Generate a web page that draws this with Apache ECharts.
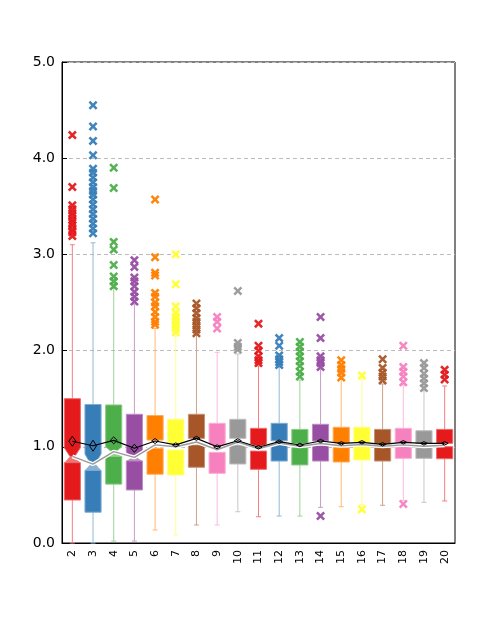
<!DOCTYPE html>
<html>
<head>
<meta charset="utf-8">
<script src="https://cdn.jsdelivr.net/npm/echarts@6/dist/echarts.min.js"></script>
<style>
  html, body { margin: 0; padding: 0; background: #fff; }
  #chart { width: 504px; height: 621px; }
</style>
</head>
<body>
<div id="chart"></div>
<script>
// groups on the x axis
var cats = ['2','3','4','5','6','7','8','9','10','11','12','13','14','15','16','17','18','19','20'];

// box statistics
var q3         = [1.50, 1.44, 1.435, 1.338, 1.325, 1.285, 1.338, 1.244, 1.286, 1.192, 1.244, 1.181, 1.234, 1.203, 1.203, 1.181, 1.192, 1.167, 1.181];
var upperEnd   = [0.99, 0.925, 1.00, 0.943, 1.07, 1.035, 1.088, 1.001, 1.088, 1.00, 1.063, 1.026, 1.06, 1.036, 1.043, 1.026, 1.043, 1.019, 1.036];
var median     = [0.90, 0.82, 0.95, 0.89, 1.02, 1.00, 1.05, 0.97, 1.05, 0.98, 1.04, 1.005, 1.035, 1.01, 1.025, 1.005, 1.02, 1.005, 1.015];
var lowerStart = [0.835, 0.755, 0.90, 0.853, 0.985, 0.967, 1.019, 0.943, 1.019, 0.956, 1.026, 0.991, 1.015, 0.991, 1.008, 0.991, 1.001, 0.991, 1.001];
var q1         = [0.447, 0.32, 0.612, 0.551, 0.715, 0.707, 0.787, 0.724, 0.821, 0.766, 0.852, 0.811, 0.852, 0.842, 0.863, 0.852, 0.88, 0.88, 0.876];
var whiskerLow  = [0, 0, 0.02, 0.02, 0.135, 0.083, 0.187, 0.187, 0.325, 0.273, 0.28, 0.28, 0.371, 0.377, 0.40, 0.392, 0.44, 0.423, 0.437];
var whiskerHigh = [3.10, 3.12, 2.647, 2.484, 2.23, 2.152, 2.159, 1.982, 1.965, 1.84, 1.826, 1.694, 1.805, 1.70, 1.70, 1.653, 1.642, 1.583, 1.632];
var notched = [true, true, true, true, false, false, false, false, false, false, false, false, false, false, false, false, false, false, false];

// means and their interval (half height)
var means  = [1.058, 1.011, 1.067, 0.985, 1.06, 1.02, 1.088, 1.00, 1.063, 0.995, 1.053, 1.019, 1.06, 1.036, 1.047, 1.026, 1.047, 1.036, 1.036];
var meanCI = [0.052, 0.057, 0.036, 0.042, 0.026, 0.021, 0.021, 0.021, 0.021, 0.018, 0.018, 0.018, 0.018, 0.018, 0.018, 0.018, 0.018, 0.018, 0.018];

// outliers per group
var outliers = [
    [4.24, 3.70, 3.51, 3.47, 3.43, 3.40, 3.36, 3.33, 3.30, 3.26, 3.23, 3.19],
    [4.55, 4.33, 4.18, 4.03, 3.89, 3.85, 3.80, 3.75, 3.70, 3.66, 3.62, 3.57, 3.52, 3.47, 3.42, 3.37, 3.32, 3.27, 3.22],
    [3.90, 3.69, 3.13, 3.05, 2.89, 2.77, 2.72, 2.67],
    [2.94, 2.87, 2.76, 2.72, 2.67, 2.61, 2.56, 2.51],
    [3.57, 2.97, 2.81, 2.78, 2.60, 2.56, 2.50, 2.46, 2.40, 2.35, 2.30, 2.27],
    [3.00, 2.69, 2.46, 2.39, 2.35, 2.31, 2.27, 2.23, 2.19],
    [2.49, 2.44, 2.39, 2.34, 2.30, 2.26, 2.22, 2.18],
    [2.35, 2.30, 2.23],
    [2.62, 2.08, 2.04, 2.01],
    [2.28, 2.05, 2.00, 1.94, 1.90, 1.87],
    [2.13, 2.05, 1.95, 1.91, 1.88, 1.85],
    [2.09, 2.04, 1.99, 1.94, 1.89, 1.84, 1.78, 1.73],
    [2.35, 2.13, 1.94, 1.90, 1.87, 1.83, 0.28],
    [1.90, 1.85, 1.81, 1.77, 1.72],
    [1.74, 0.35],
    [1.91, 1.82, 1.77, 1.73, 1.69],
    [2.05, 1.83, 1.78, 1.73, 1.67, 0.405],
    [1.87, 1.82, 1.76, 1.71, 1.66, 1.61],
    [1.80, 1.75, 1.70]
];

var yTicks = [0, 1, 2, 3, 4, 5];

var palette = ['#e41a1c', '#377eb8', '#4daf4a', '#984ea3', '#ff7f00', '#ffff33', '#a65628', '#f781bf', '#999999'];
function colorOf(i) { return palette[i % palette.length]; }
function lighten(hex, t) {
    var r = parseInt(hex.substr(1, 2), 16), g = parseInt(hex.substr(3, 2), 16), b = parseInt(hex.substr(5, 2), 16);
    r = Math.round(r + (255 - r) * t); g = Math.round(g + (255 - g) * t); b = Math.round(b + (255 - b) * t);
    return 'rgb(' + r + ',' + g + ',' + b + ')';
}

var crossPath = 'path://M0,2 L2,0 L5,3 L8,0 L10,2 L7,5 L10,8 L8,10 L5,7 L2,10 L0,8 L3,5 Z';

var outlierData = [];
for (var i = 0; i < outliers.length; i++) {
    for (var k = 0; k < outliers[i].length; k++) {
        outlierData.push([i, outliers[i][k]]);
    }
}

function renderBox(params, api) {
    var i = params.dataIndex;
    var x = api.coord([i, 0])[0];
    var band = api.size([1, 0])[0];
    var hw = band * 0.39;
    var ww = hw * 0.3;
    var y = function (v) { return api.coord([i, v])[1]; };
    var c = colorOf(i);
    var wc = lighten(c, 0.45);
    var edge = lighten(c, 0.35);
    var kids = [
        { type: 'line', shape: { x1: x, y1: y(q3[i]), x2: x, y2: y(whiskerHigh[i]) }, style: { stroke: wc, lineWidth: 1 } },
        { type: 'line', shape: { x1: x - 2.5, y1: y(whiskerHigh[i]), x2: x + 2.5, y2: y(whiskerHigh[i]) }, style: { stroke: wc, lineWidth: 1 } },
        { type: 'line', shape: { x1: x, y1: y(q1[i]), x2: x, y2: y(whiskerLow[i]) }, style: { stroke: wc, lineWidth: 1 } },
        { type: 'line', shape: { x1: x - 2.5, y1: y(whiskerLow[i]), x2: x + 2.5, y2: y(whiskerLow[i]) }, style: { stroke: wc, lineWidth: 1 } }
    ];
    if (notched[i]) {
        kids.push({ type: 'polygon', shape: { points: [
            [x - hw, y(q3[i])], [x + hw, y(q3[i])], [x + hw, y(upperEnd[i])],
            [x + ww, y(median[i])], [x - ww, y(median[i])], [x - hw, y(upperEnd[i])]
        ] }, style: { fill: c, stroke: edge, lineWidth: 1 } });
        kids.push({ type: 'polygon', shape: { points: [
            [x - ww, y(median[i])], [x + ww, y(median[i])], [x + hw, y(lowerStart[i])], [x - hw, y(lowerStart[i])]
        ] }, style: { fill: lighten(c, 0.4) } });
    } else {
        kids.push({ type: 'rect', shape: { x: x - hw, y: y(q3[i]), width: hw * 2, height: y(upperEnd[i]) - y(q3[i]) },
            style: { fill: c, stroke: edge, lineWidth: 1 } });
    }
    kids.push({ type: 'rect', shape: { x: x - hw, y: y(lowerStart[i]), width: hw * 2, height: y(q1[i]) - y(lowerStart[i]) },
        style: { fill: c, stroke: edge, lineWidth: 1 } });
    return { type: 'group', children: kids };
}

function renderMean(params, api) {
    var i = params.dataIndex;
    var x = api.coord([i, 0])[0];
    var y = function (v) { return api.coord([i, v])[1]; };
    return {
        type: 'polygon',
        shape: { points: [[x, y(means[i] + meanCI[i])], [x + 3.5, y(means[i])], [x, y(means[i] - meanCI[i])], [x - 3.5, y(means[i])]] },
        style: { fill: 'none', stroke: '#000', lineWidth: 1 }
    };
}

var dom = document.getElementById('chart');
var myChart = echarts.init(dom, null, { renderer: 'canvas' });

var option = {
    animation: false,
    backgroundColor: '#fff',
    grid: { left: 62, right: 49, top: 62, bottom: 78, show: true, borderColor: '#000', borderWidth: 1 },
    xAxis: {
        type: 'category',
        data: cats,
        axisLine: { lineStyle: { color: '#000', width: 1 } },
        axisTick: { show: false },
        axisLabel: { rotate: 90, fontSize: 11, color: '#000', margin: 7, fontFamily: 'DejaVu Sans' },
        splitLine: { show: false }
    },
    yAxis: {
        type: 'value',
        min: yTicks[0],
        max: yTicks[yTicks.length - 1],
        interval: 1,
        axisLine: { show: true, lineStyle: { color: '#000', width: 1 } },
        axisTick: { show: true, inside: true, length: 5, lineStyle: { color: '#000' } },
        axisLabel: { fontSize: 14, color: '#000', margin: 7, fontFamily: 'DejaVu Sans',
            formatter: function (v) { return v.toFixed(1); } },
        splitLine: { show: true, lineStyle: { color: '#bbb', type: [4, 3], width: 1 } }
    },
    series: [
        {
            type: 'custom',
            name: 'boxes',
            renderItem: renderBox,
            data: cats.map(function (c, i) { return [i, q3[i]]; }),
            z: 2
        },
        {
            type: 'scatter',
            name: 'outliers',
            data: outlierData,
            symbol: crossPath,
            symbolSize: 9,
            itemStyle: { color: function (p) { return colorOf(p.data[0]); }, opacity: 0.95 },
            z: 3
        },
        {
            type: 'line',
            name: 'median halo',
            data: median,
            symbol: 'none',
            lineStyle: { color: '#fff', width: 4 },
            z: 4
        },
        {
            type: 'line',
            name: 'median',
            data: median,
            symbol: 'none',
            lineStyle: { color: '#9a9a9a', width: 1.5 },
            z: 5
        },
        {
            type: 'line',
            name: 'mean',
            data: means,
            symbol: 'none',
            lineStyle: { color: '#000', width: 1.2 },
            z: 6
        },
        {
            type: 'custom',
            name: 'mean ci',
            renderItem: renderMean,
            data: cats.map(function (c, i) { return [i, means[i]]; }),
            z: 7
        }
    ]
};
myChart.setOption(option);
</script>
</body>
</html>
